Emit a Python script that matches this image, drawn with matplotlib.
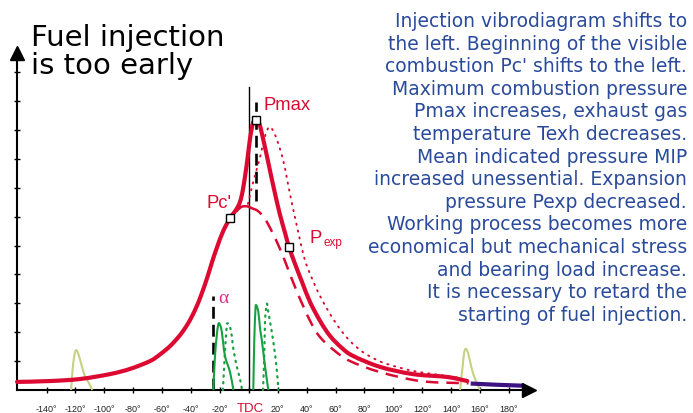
import matplotlib
matplotlib.use('Agg')
import matplotlib.pyplot as plt
from matplotlib.path import Path
from matplotlib.patches import PathPatch

# ---------------- data (crank angle in degrees, pressure in tick units) ----------------
x_ticks = [-140, -120, -100, -80, -60, -40, -20, 0, 20, 40, 60, 80, 100, 120, 140, 160, 180]
x_tick_labels = ['-140°', '-120°', '-100°', '-80°', '-60°', '-40°', '-20°', 'TDC',
                 '20°', '40°', '60°', '80°', '100°', '120°', '140°', '160°', '180°']
y_ticks = [1, 2, 3, 4, 5, 6, 7, 8, 9, 10, 11]

# early-injection pressure curve (solid)
main_deg = [-160.4, -137.6, -116.8, -96.1, -82.2, -68.4, -61.5, -54.5, -47.6, -42.1, -37.2,
            -33.1, -28.9, -25.5, -22.0, -17.9, -13.0, -8.9, -6.1, -4.0, -1.2, 0.8, 2.9, 5.0,
            7.1, 9.1, 11.9, 14.7, 18.2, 21.6, 25.1, 27.8, 32.0, 36.8, 42.4, 49.3, 56.2, 64.5,
            72.1, 90.8, 113.6, 137.2, 151.2]
main_p = [0.28, 0.31, 0.38, 0.55, 0.73, 1.00, 1.23, 1.52, 1.90, 2.30, 2.77,
          3.27, 3.87, 4.42, 4.94, 5.48, 5.95, 6.23, 6.51, 6.96, 7.89, 8.69, 9.24, 9.34,
          9.24, 8.86, 8.24, 7.58, 6.78, 6.06, 5.43, 4.95, 4.36, 3.74, 3.04, 2.39, 1.87, 1.45,
          1.18, 0.80, 0.55, 0.45, 0.31]

# compression continuation (short solid piece) near TDC
hook_deg = [-8.2, -5.4, -2.7, 0.0, 1.5]
hook_p = [6.20, 6.33, 6.36, 6.34, 6.30]

# compression / expansion without combustion (dashed)
dash_deg = [1.5, 6.4, 11.2, 16.1, 21.6, 27.1, 33.4, 42.4, 49.3, 59.6, 70.1, 90.8, 118.5, 146.1, 152.0]
dash_p = [6.30, 6.19, 5.92, 5.47, 4.88, 4.19, 3.39, 2.39, 1.83, 1.35, 1.00, 0.62, 0.31, 0.24, 0.24]

# normal injection pressure curve (dotted)
dot_deg = [-0.6, 1.5, 3.6, 5.7, 7.8, 9.8, 11.9, 14.0, 16.1, 18.8, 20.9, 23.0, 25.1, 27.1, 29.2,
           31.3, 33.4, 35.4, 38.2, 41.0, 45.1, 49.3, 56.2, 63.1, 70.7, 79.0, 87.3, 95.6, 113.6,
           132.3, 146.1]
dot_p = [6.44, 6.89, 7.30, 7.68, 8.06, 8.51, 8.89, 9.10, 9.03, 8.75, 8.44, 8.10, 7.65, 7.13, 6.61,
         6.12, 5.64, 5.19, 4.60, 4.19, 3.70, 3.25, 2.63, 2.11, 1.66, 1.31, 1.07, 0.90, 0.66,
         0.52, 0.42]

# markers
pc_deg, pc_p = -13.0, 5.95
pmax_deg, pmax_p = 5.0, 9.34
pexp_deg, pexp_p = 27.8, 4.95

# injection vibrodiagrams (green)
inj1_deg = [-24.6, -23.4, -22.2, -21.1, -19.9, -18.7, -16.5, -13.0, -10.7]
inj1_p = [0.0, 1.18, 1.87, 2.28, 2.25, 2.01, 1.18, 0.62, 0.0]
inj2_deg = [3.1, 3.8, 4.5, 5.0, 6.6, 7.8, 8.9, 11.2, 13.5]
inj2_p = [0.0, 1.76, 2.70, 2.94, 2.70, 2.11, 1.76, 0.83, 0.0]
inj1n_deg = [-17.9, -16.8, -15.3, -14.2, -13.0, -11.8, -10.7, -8.4, -6.1, -4.7]
inj1n_p = [0.0, 1.07, 2.21, 2.28, 2.18, 1.87, 1.42, 0.83, 0.38, 0.0]
inj2n_deg = [9.8, 10.7, 11.2, 12.4, 13.5, 14.7, 17.0, 19.3, 20.4]
inj2n_p = [0.0, 1.18, 2.35, 2.98, 2.70, 2.35, 1.66, 0.73, 0.0]

# valve pulses (olive)
valve1_deg = [-123.0, -121.9, -120.8, -119.6, -118.0, -115.6, -113.4, -111.1, -108.3]
valve1_p = [0.0, 0.73, 1.18, 1.38, 1.25, 0.83, 0.48, 0.28, 0.0]
valve2_deg = [146.2, 148.0, 149.1, 150.3, 151.9, 154.3, 156.6, 160.0]
valve2_p = [0.0, 0.83, 1.31, 1.42, 1.25, 0.73, 0.38, 0.0]

# exhaust line (purple)
exh_deg = [155.0, 172.0, 189.0]
exh_p = [0.22, 0.18, 0.15]

# reference lines
tdc_top = 10.5
alpha_deg, alpha_top = -24.8, 3.25
peak_line_deg, peak_line_lo, peak_line_hi = 4.8, 6.54, 9.97

title_lines = ['Fuel injection', 'is too early']
note_lines = [
    'Injection vibrodiagram shifts to',
    'the left. Beginning of the visible',
    "combustion Pc' shifts to the left.",
    'Maximum combustion pressure',
    'Pmax increases, exhaust gas',
    'temperature Texh decreases.',
    'Mean indicated pressure MIP',
    'increased unessential. Expansion',
    'pressure Pexp decreased.',
    'Working process becomes more',
    'economical but mechanical stress',
    'and bearing load increase.',
    'It is necessary to retard the',
    'starting of fuel injection.',
]

# ---------------- styling ----------------
RED = '#DC0A32'
GREEN = '#18A043'
OLIVE = '#C6D184'
PURPLE = '#3D1283'
BLUE = '#2A4B9B'
MAGENTA = '#E0288C'

fig = plt.figure(figsize=(6.93, 4.14), dpi=100)
ax = fig.add_axes([0, 0, 1, 1])
ax.set_xlim(-172.2, 307.4)
ax.set_ylim(-0.796, 13.53)


def smooth_curve(ax, xs, ys, **kw):
    """Draw a smooth (Catmull-Rom as cubic Bezier) path through the given points."""
    pts = list(zip(xs, ys))
    n = len(pts)
    verts = [pts[0]]
    codes = [Path.MOVETO]
    for i in range(n - 1):
        p0 = pts[i - 1] if i > 0 else pts[i]
        p1 = pts[i]
        p2 = pts[i + 1]
        p3 = pts[i + 2] if i + 2 < n else pts[i + 1]
        c1 = (p1[0] + (p2[0] - p0[0]) / 6.0, p1[1] + (p2[1] - p0[1]) / 6.0)
        c2 = (p2[0] - (p3[0] - p1[0]) / 6.0, p2[1] - (p3[1] - p1[1]) / 6.0)
        verts += [c1, c2, p2]
        codes += [Path.CURVE4, Path.CURVE4, Path.CURVE4]
    patch = PathPatch(Path(verts, codes), fill=False, **kw)
    ax.add_patch(patch)
    return patch


# axes
for s in ['top', 'right']:
    ax.spines[s].set_visible(False)
ax.spines['left'].set_position(('data', -160.4))
ax.spines['bottom'].set_position(('data', 0))
ax.spines['left'].set_bounds(0, 11.6)
ax.spines['bottom'].set_bounds(-160.4, 192)
for s in ['left', 'bottom']:
    ax.spines[s].set_linewidth(1.5)
ax.set_xticks(x_ticks)
ax.set_yticks(y_ticks)
ax.tick_params(direction='inout', length=4.8, width=1.0, labelbottom=False, labelleft=False)
ax.plot([194.2], [0], marker='>', markersize=10.5, color='black', clip_on=False, zorder=5)
ax.plot([-160.4], [11.66], marker='^', markersize=10.5, color='black', clip_on=False, zorder=5)

for d, lab in zip(x_ticks, x_tick_labels):
    if lab == 'TDC':
        ax.text(d + 0.8, -0.72, lab, ha='center', va='baseline', fontsize=9.5,
                family='Liberation Sans', color=RED)
    else:
        ax.text(d, -0.74, lab, ha='center', va='baseline', fontsize=6.5,
                family='Liberation Sans', color='#222222')

# reference lines
ax.plot([0, 0], [0, tdc_top], color='black', lw=1.0, zorder=2)
ax.plot([alpha_deg, alpha_deg], [0, alpha_top], color='black', lw=1.9,
        dashes=(4.5, 2.3), zorder=3)
ax.plot([peak_line_deg, peak_line_deg], [peak_line_lo, peak_line_hi], color='black', lw=1.9,
        dashes=(4.5, 2.3), zorder=3)

# valve pulses
smooth_curve(ax, valve1_deg, valve1_p, edgecolor=OLIVE, lw=1.5, zorder=3)
smooth_curve(ax, valve2_deg, valve2_p, edgecolor=OLIVE, lw=1.5, zorder=3)

# injection
smooth_curve(ax, inj1_deg, inj1_p, edgecolor=GREEN, lw=1.5, zorder=3)
smooth_curve(ax, inj2_deg, inj2_p, edgecolor=GREEN, lw=1.5, zorder=3)
smooth_curve(ax, inj1n_deg, inj1n_p, edgecolor=GREEN, lw=1.6, linestyle=(0, (0.6, 2.4)),
             zorder=3, capstyle='round')
smooth_curve(ax, inj2n_deg, inj2n_p, edgecolor=GREEN, lw=1.6, linestyle=(0, (0.6, 2.4)),
             zorder=3, capstyle='round')

# pressure curves
smooth_curve(ax, dot_deg, dot_p, edgecolor=RED, lw=1.4, linestyle=(0, (0.6, 3.0)), zorder=4,
             capstyle='round')
smooth_curve(ax, dash_deg, dash_p, edgecolor=RED, lw=1.8, linestyle=(0, (5, 3.2)), zorder=4)
smooth_curve(ax, hook_deg, hook_p, edgecolor=RED, lw=1.8, zorder=4, capstyle='round')
smooth_curve(ax, main_deg, main_p, edgecolor=RED, lw=3.0, zorder=5, joinstyle='round',
             capstyle='round')
ax.plot(exh_deg, exh_p, color=PURPLE, lw=3.0, zorder=4)

for d, p in [(pc_deg, pc_p), (pmax_deg, pmax_p), (pexp_deg, pexp_p)]:
    ax.plot([d], [p], marker='s', markersize=5.2, markerfacecolor='white',
            markeredgecolor='black', markeredgewidth=1.0, zorder=6)

# labels
ax.text(-29.6, 6.33, "Pc'", fontsize=13.3, family='Liberation Sans', color=RED,
        va='baseline', ha='left', zorder=7)
ax.text(9.9, 9.73, 'Pmax', fontsize=13.3, family='Liberation Sans', color=RED,
        va='baseline', ha='left', zorder=7)
ax.text(41.9, 5.12, 'P', fontsize=13.3, family='Liberation Sans', color=RED,
        va='baseline', ha='left', zorder=7)
ax.text(51.6, 5.02, 'exp', fontsize=8.5, family='Liberation Sans', color=RED,
        va='baseline', ha='left', zorder=7)
ax.text(-21.3, 3.04, 'α', fontsize=14, family='Liberation Serif', color=MAGENTA,
        va='baseline', ha='left', zorder=7)

# title
ax.text(-150.7, 11.94, title_lines[0], fontsize=21, family='DejaVu Sans', color='black',
        va='baseline', ha='left')
ax.text(-150.7, 10.97, title_lines[1], fontsize=21, family='DejaVu Sans', color='black',
        va='baseline', ha='left')

# note
for i, line in enumerate(note_lines):
    ybase = 27 + 22.6 * i
    ax.text(303.3, (391 - ybase) / 28.9, line, fontsize=13.5, family='DejaVu Sans',
            color=BLUE, ha='right', va='baseline')

fig.savefig('out.png', dpi=100)
